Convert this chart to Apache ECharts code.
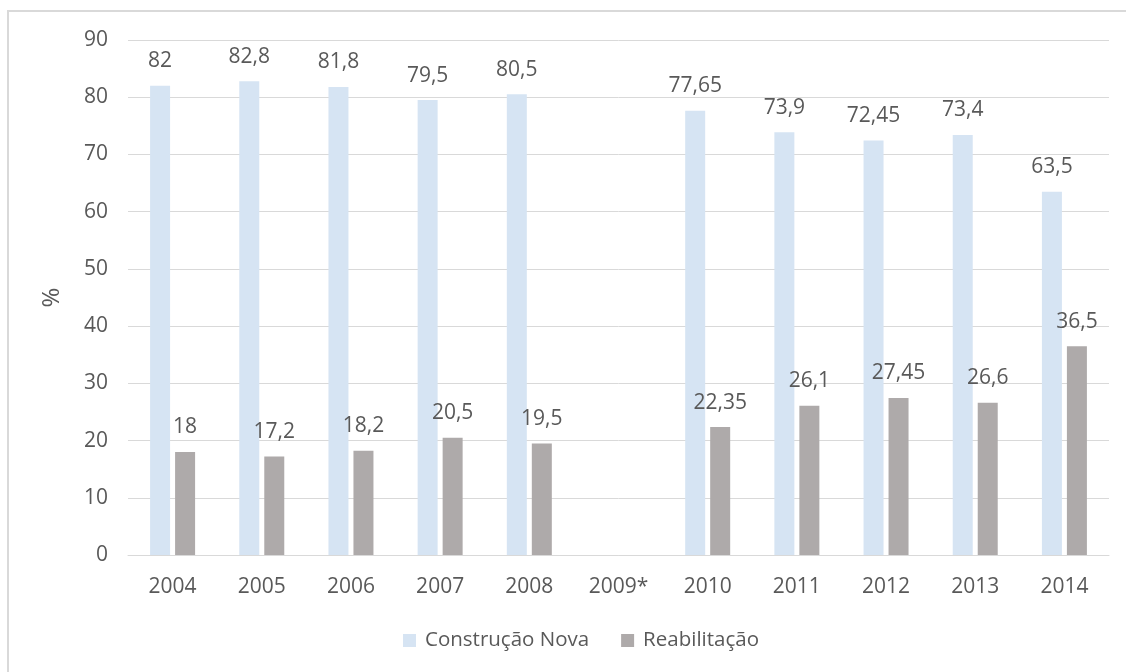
<!DOCTYPE html>
<html>
<head>
<meta charset="utf-8">
<script src="https://cdn.jsdelivr.net/npm/echarts@6/dist/echarts.min.js"></script>
<style>
html,body{margin:0;padding:0;background:#fff;}
#chart{width:1126px;height:672px;}
</style>
</head>
<body>
<div id="chart"></div>
<script>
var categories = ['2004','2005','2006','2007','2008','2009*','2010','2011','2012','2013','2014'];
var construcaoNova = [82, 82.8, 81.8, 79.5, 80.5, null, 77.65, 73.9, 72.45, 73.4, 63.5];
var reabilitacao = [18, 17.2, 18.2, 20.5, 19.5, null, 22.35, 26.1, 27.45, 26.6, 36.5];
var seriesNames = ['Construção Nova', 'Reabilitação'];

var FONT = '"Open Sans", "Liberation Sans", sans-serif';
var TXT = '#595959';

function fmt(v) {
  return String(v).replace('.', ',');
}

var chart = echarts.init(document.getElementById('chart'), null, {renderer: 'canvas'});
chart.setOption({
  animation: false,
  backgroundColor: '#fff',
  textStyle: {fontFamily: FONT},
  graphic: [{
    type: 'rect',
    shape: {x: 8, y: 11, width: 1300, height: 800},
    style: {fill: 'none', stroke: '#d9d9d9', lineWidth: 2},
    silent: true,
    z: -1
  }],
  grid: {left: 128, right: 17, top: 40, bottom: 117, containLabel: false},
  legend: {
    data: seriesNames,
    bottom: 16,
    left: 398,
    itemWidth: 13,
    itemHeight: 13,
    itemGap: 32,
    icon: 'rect',
    textStyle: {color: TXT, fontSize: 20.5, fontFamily: FONT, padding: [0, 0, 0, 4]}
  },
  xAxis: {
    type: 'category',
    data: categories,
    axisLine: {lineStyle: {color: '#d9d9d9', width: 1}},
    axisTick: {show: false},
    axisLabel: {color: TXT, fontSize: 21, fontFamily: FONT, margin: 22}
  },
  yAxis: {
    type: 'value',
    min: 0,
    max: 90,
    interval: 10,
    name: '%',
    nameLocation: 'middle',
    nameGap: 64,
    nameRotate: 90,
    nameTextStyle: {color: TXT, fontSize: 24, fontFamily: FONT},
    axisLine: {show: false},
    axisTick: {show: false},
    axisLabel: {color: TXT, fontSize: 21, fontFamily: FONT, margin: 20},
    splitLine: {lineStyle: {color: '#d9d9d9', width: 1}}
  },
  series: [{
    name: seriesNames[0],
    type: 'bar',
    data: construcaoNova,
    barWidth: 20,
    barGap: '25%',
    itemStyle: {color: '#d6e4f3'},
    label: {
      show: true, position: 'top', distance: 14,
      color: TXT, fontSize: 21, fontFamily: FONT,
      formatter: function (p) { return fmt(p.value); }
    }
  }, {
    name: seriesNames[1],
    type: 'bar',
    data: reabilitacao,
    barWidth: 20,
    barGap: '25%',
    itemStyle: {color: '#aeaaaa'},
    label: {
      show: true, position: 'top', distance: 14,
      color: TXT, fontSize: 21, fontFamily: FONT,
      formatter: function (p) { return fmt(p.value); }
    }
  }]
});
</script>
</body>
</html>
